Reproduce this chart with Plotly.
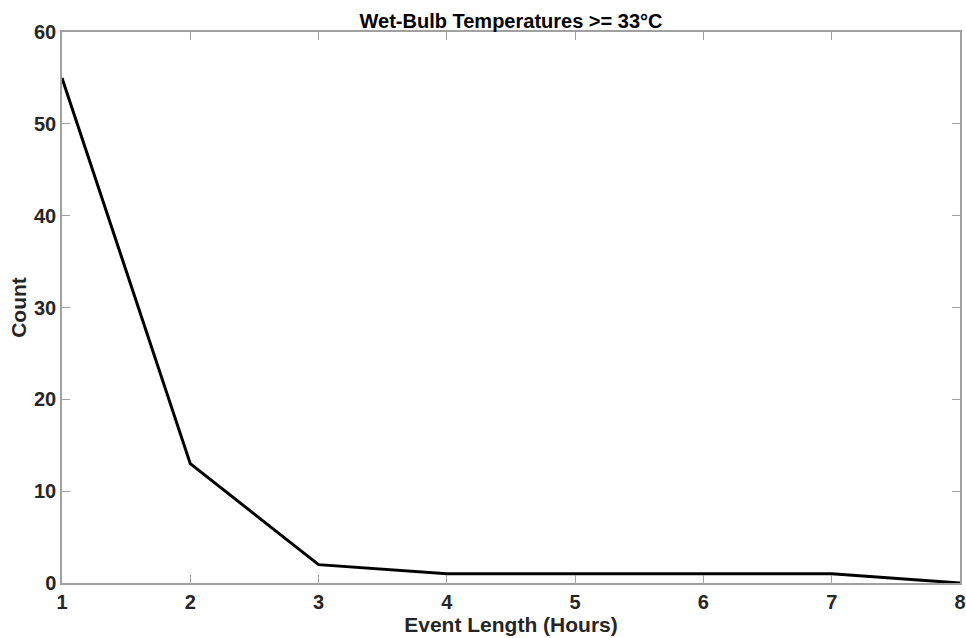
import plotly.graph_objects as go

# Event length (hours) and number of events at each length
event_hours = [1, 2, 3, 4, 5, 6, 7, 8]
event_counts = [55, 13, 2, 1, 1, 1, 1, 0]

x_ticks = [1, 2, 3, 4, 5, 6, 7, 8]
y_ticks = [0, 10, 20, 30, 40, 50, 60]

FONT = "Liberation Sans, Arial, sans-serif"
TEXT = "#262626"
AXIS = "#a0a0a0"

fig = go.Figure(
    go.Scatter(
        x=event_hours,
        y=event_counts,
        mode="lines",
        line=dict(color="black", width=3),
        hoverinfo="x+y",
    )
)

axis_common = dict(
    showgrid=False,
    zeroline=False,
    showline=True,
    linecolor=AXIS,
    linewidth=1.5,
    mirror="ticks",
    ticks="inside",
    ticklen=8,
    tickwidth=1,
    tickcolor=AXIS,
    automargin=False,
    tickfont=dict(family=FONT, size=20, color=TEXT, weight="bold"),
)

fig.update_layout(
    width=966,
    height=638,
    margin=dict(l=62, r=6, t=32, b=55),
    paper_bgcolor="white",
    plot_bgcolor="white",
    showlegend=False,
    title=dict(
        text="<b>Wet-Bulb Temperatures >= 33°C</b>",
        font=dict(family=FONT, size=20, color="black"),
        x=0.5,
        xref="paper",
        xanchor="center",
        y=1,
        yref="paper",
        yanchor="bottom",
        pad=dict(b=4),
    ),
    xaxis=dict(
        range=[1, 8],
        tickvals=x_ticks,
        ticktext=[str(v) for v in x_ticks],
        title=dict(
            text="<b>Event Length (Hours)</b>",
            font=dict(family=FONT, size=21, color=TEXT),
            standoff=0,
        ),
        **axis_common,
    ),
    yaxis=dict(
        range=[0, 60],
        tickvals=y_ticks,
        ticktext=[str(v) for v in y_ticks],
        title=dict(
            text="<b>Count</b>",
            font=dict(family=FONT, size=21, color=TEXT),
            standoff=2,
        ),
        **axis_common,
    ),
)

fig.write_html("out.html")
